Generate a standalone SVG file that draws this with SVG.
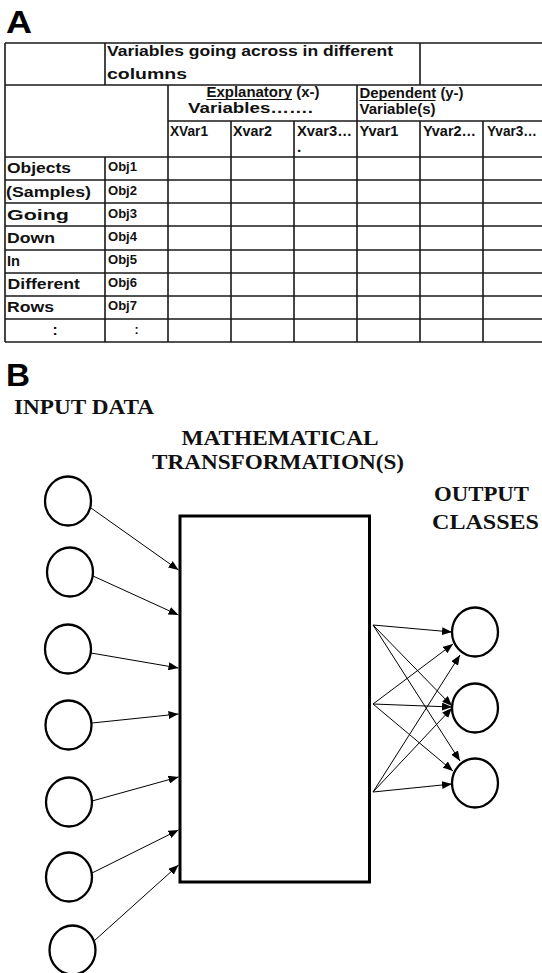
<svg xmlns="http://www.w3.org/2000/svg" width="542" height="973" viewBox="0 0 542 973">
  <style>
    .grid { stroke: #1a1a1a; stroke-width: 1.6; fill: none; }
    .t { font-family: "Liberation Sans", Arial, sans-serif; font-weight: bold; font-size: 15.5px; fill: #111; }
    .o { font-family: "Liberation Sans", Arial, sans-serif; font-weight: bold; font-size: 12.5px; fill: #111; }
    .panel { font-family: "Liberation Sans", Arial, sans-serif; font-weight: bold; font-size: 32px; fill: #000; }
    .lbl { font-family: "Liberation Serif", "Times New Roman", serif; font-weight: bold; font-size: 20px; fill: #111; }
    .node { fill: #fff; stroke: #000; stroke-width: 2.3; }
    .box { fill: #fff; stroke: #000; stroke-width: 3; }
    .link { stroke: #000; stroke-width: 1; fill: none; marker-end: url(#head); }
    .ul { stroke: #111; stroke-width: 1.2; }
  </style>
  <defs>
    <marker id="head" markerUnits="userSpaceOnUse" markerWidth="10" markerHeight="8" refX="10" refY="4" orient="auto">
      <path d="M0,0 L10,4 L0,8 Z" fill="#000"/>
    </marker>
  </defs>

  <rect width="542" height="973" fill="#fff"/>

  <!-- Panel A: data table -->
  <text class="panel" x="6" y="33" textLength="26" lengthAdjust="spacingAndGlyphs">A</text>
  <g id="table">
    <g class="grid">
      <!-- horizontal rules -->
      <path d="M5,43 H542 M5,85 H542 M168,121 H542 M5,157 H542 M5,180 H542 M5,203 H542 M5,226 H542 M5,250 H542 M5,273 H542 M5,296 H542 M5,319 H542 M5,342 H542"/>
      <!-- vertical rules -->
      <path d="M5,43 V342 M105,43 V85 M105,157 V342 M168,85 V342 M231,121 V342 M294,121 V342 M357,85 V342 M420,43 V85 M420,121 V342 M483,121 V342"/>
    </g>
    <text class="t" x="107" y="56" textLength="286" lengthAdjust="spacingAndGlyphs">Variables going across in different</text>
    <text class="t" x="107" y="79" textLength="80" lengthAdjust="spacingAndGlyphs">columns</text>

    <text class="t" x="206.5" y="97" textLength="113" lengthAdjust="spacingAndGlyphs">Explanatory (x-)</text>
    <line class="ul" x1="206.5" y1="99.5" x2="292" y2="99.5"/>
    <text class="t" x="188" y="113" textLength="125" lengthAdjust="spacingAndGlyphs">Variables…….</text>
    <text class="t" x="359.5" y="98" textLength="104" lengthAdjust="spacingAndGlyphs">Dependent (y-)</text>
    <line class="ul" x1="359.5" y1="100.5" x2="435.5" y2="100.5"/>
    <text class="t" x="359.5" y="113.5" textLength="76" lengthAdjust="spacingAndGlyphs">Variable(s)</text>

    <text class="t" x="170" y="136" textLength="38" lengthAdjust="spacingAndGlyphs">XVar1</text>
    <text class="t" x="233" y="136" textLength="39" lengthAdjust="spacingAndGlyphs">Xvar2</text>
    <text class="t" x="297" y="136" textLength="55" lengthAdjust="spacingAndGlyphs">Xvar3…</text>
    <text class="t" x="297" y="152">.</text>
    <text class="t" x="359.5" y="136" textLength="39" lengthAdjust="spacingAndGlyphs">Yvar1</text>
    <text class="t" x="423" y="136" textLength="53" lengthAdjust="spacingAndGlyphs">Yvar2…</text>
    <text class="t" x="487" y="136" textLength="50" lengthAdjust="spacingAndGlyphs">Yvar3…</text>

    <text class="t" x="7" y="172.5" textLength="64" lengthAdjust="spacingAndGlyphs">Objects</text>
    <text class="t" x="6" y="196.5" textLength="85" lengthAdjust="spacingAndGlyphs">(Samples)</text>
    <text class="t" x="7" y="219.5" textLength="62" lengthAdjust="spacingAndGlyphs">Going</text>
    <text class="t" x="7" y="243" textLength="48" lengthAdjust="spacingAndGlyphs">Down</text>
    <text class="t" x="7" y="266" textLength="13" lengthAdjust="spacingAndGlyphs">In</text>
    <text class="t" x="7.5" y="289" textLength="72.5" lengthAdjust="spacingAndGlyphs">Different</text>
    <text class="t" x="7" y="312" textLength="47" lengthAdjust="spacingAndGlyphs">Rows</text>
    <text class="t" x="55" y="335" text-anchor="middle">:</text>

    <text class="o" x="108" y="170.5" textLength="29" lengthAdjust="spacingAndGlyphs">Obj1</text>
    <text class="o" x="108" y="194.5" textLength="29" lengthAdjust="spacingAndGlyphs">Obj2</text>
    <text class="o" x="108" y="217.5" textLength="29" lengthAdjust="spacingAndGlyphs">Obj3</text>
    <text class="o" x="108" y="240.5" textLength="29" lengthAdjust="spacingAndGlyphs">Obj4</text>
    <text class="o" x="108" y="264" textLength="29" lengthAdjust="spacingAndGlyphs">Obj5</text>
    <text class="o" x="108" y="287" textLength="29" lengthAdjust="spacingAndGlyphs">Obj6</text>
    <text class="o" x="108" y="310" textLength="29" lengthAdjust="spacingAndGlyphs">Obj7</text>
    <text class="o" x="136.5" y="334" text-anchor="middle">:</text>
  </g>

  <!-- Panel B: network schematic -->
  <text class="panel" x="6" y="386" textLength="24" lengthAdjust="spacingAndGlyphs">B</text>
  <text class="lbl" x="14" y="414" textLength="140" lengthAdjust="spacingAndGlyphs">INPUT DATA</text>
  <text class="lbl" x="181.5" y="445" textLength="197" lengthAdjust="spacingAndGlyphs">MATHEMATICAL</text>
  <text class="lbl" x="152" y="468.5" textLength="252" lengthAdjust="spacingAndGlyphs">TRANSFORMATION(S)</text>
  <text class="lbl" x="434" y="500.5" textLength="95" lengthAdjust="spacingAndGlyphs">OUTPUT</text>
  <text class="lbl" x="432" y="528.5" textLength="107" lengthAdjust="spacingAndGlyphs">CLASSES</text>

  <!-- connectors -->
  <g id="connectors">
    <line class="link" x1="91" y1="508" x2="178.5" y2="570"/>
    <line class="link" x1="93" y1="576" x2="178.5" y2="615"/>
    <line class="link" x1="91" y1="653" x2="178.5" y2="668"/>
    <line class="link" x1="92" y1="723" x2="178.5" y2="714"/>
    <line class="link" x1="92" y1="801" x2="178.5" y2="777"/>
    <line class="link" x1="92" y1="873" x2="178.5" y2="830"/>
    <line class="link" x1="94" y1="941" x2="178.5" y2="865"/>

    <line class="link" x1="373" y1="625" x2="452" y2="632"/>
    <line class="link" x1="373" y1="704" x2="453" y2="644"/>
    <line class="link" x1="373" y1="792" x2="460" y2="655"/>
    <line class="link" x1="373" y1="625" x2="452" y2="706"/>
    <line class="link" x1="373" y1="704" x2="452" y2="707"/>
    <line class="link" x1="373" y1="792" x2="452" y2="708"/>
    <line class="link" x1="373" y1="625" x2="460" y2="761"/>
    <line class="link" x1="373" y1="704" x2="453" y2="771"/>
    <line class="link" x1="373" y1="792" x2="452" y2="784"/>
  </g>

  <!-- input nodes -->
  <g id="in1"><ellipse class="node" cx="68" cy="501" rx="23" ry="24.5"/></g>
  <g id="in2"><ellipse class="node" cx="70" cy="572" rx="23" ry="24.5"/></g>
  <g id="in3"><ellipse class="node" cx="68" cy="649" rx="23" ry="24.5"/></g>
  <g id="in4"><ellipse class="node" cx="68.5" cy="725" rx="23" ry="24.5"/></g>
  <g id="in5"><ellipse class="node" cx="69" cy="802" rx="23" ry="24.5"/></g>
  <g id="in6"><ellipse class="node" cx="69" cy="877" rx="23" ry="24.5"/></g>
  <g id="in7"><ellipse class="node" cx="72.5" cy="950" rx="23" ry="24.5"/></g>

  <!-- transformation block -->
  <g id="transform"><rect class="box" x="180" y="516" width="189.5" height="366"/></g>

  <!-- output nodes -->
  <g id="out1"><ellipse class="node" cx="475" cy="632" rx="23" ry="24.5"/></g>
  <g id="out2"><ellipse class="node" cx="475" cy="708" rx="23" ry="24.5"/></g>
  <g id="out3"><ellipse class="node" cx="475" cy="783" rx="23" ry="24.5"/></g>
</svg>
